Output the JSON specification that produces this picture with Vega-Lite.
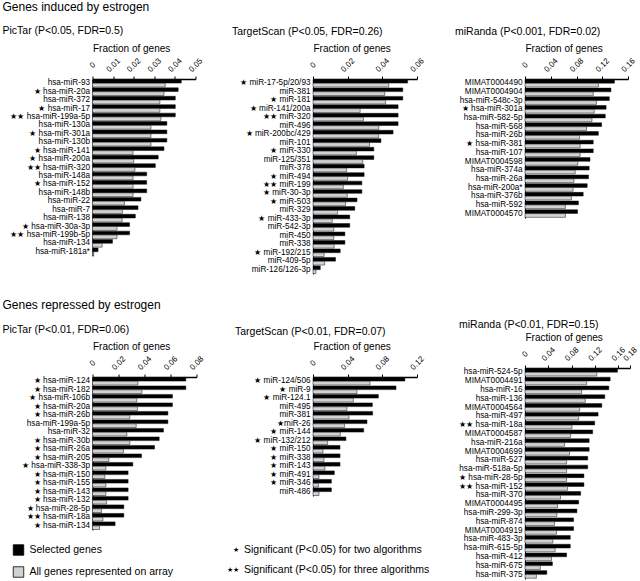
{
  "$schema": "https://vega.github.io/schema/vega-lite/v6.json",
  "padding": {"left": 2.5, "top": 1, "right": 0, "bottom": 0},
  "data": {"values": [
    {"p":"p1","m":"hsa-miR-93","sel":0.0431,"all":0.0353},
    {"p":"p1","m":"★ hsa-miR-20a","sel":0.0416,"all":0.0347},
    {"p":"p1","m":"hsa-miR-372","sel":0.0402,"all":0.0327},
    {"p":"p1","m":"★ hsa-miR-17","sel":0.0402,"all":0.0327},
    {"p":"p1","m":"★★ hsa-miR-199a-5p","sel":0.0402,"all":0.0332},
    {"p":"p1","m":"hsa-miR-130a","sel":0.0361,"all":0.0284},
    {"p":"p1","m":"★ hsa-miR-301a","sel":0.0361,"all":0.0284},
    {"p":"p1","m":"hsa-miR-130b","sel":0.0361,"all":0.0284},
    {"p":"p1","m":"★ hsa-miR-141","sel":0.0347,"all":0.0197},
    {"p":"p1","m":"★ hsa-miR-200a","sel":0.0319,"all":0.0200},
    {"p":"p1","m":"★★ hsa-miR-320","sel":0.0305,"all":0.0206},
    {"p":"p1","m":"hsa-miR-148a","sel":0.0263,"all":0.0197},
    {"p":"p1","m":"★ hsa-miR-152","sel":0.0263,"all":0.0197},
    {"p":"p1","m":"hsa-miR-148b","sel":0.0263,"all":0.0197},
    {"p":"p1","m":"hsa-miR-22","sel":0.0235,"all":0.0155},
    {"p":"p1","m":"hsa-miR-7","sel":0.0221,"all":0.0145},
    {"p":"p1","m":"hsa-miR-138","sel":0.0208,"all":0.0144},
    {"p":"p1","m":"★ hsa-miR-30a-3p","sel":0.0180,"all":0.0119},
    {"p":"p1","m":"★★ hsa-miR-199b-5p","sel":0.0180,"all":0.0119},
    {"p":"p1","m":"hsa-miR-134","sel":0.0097,"all":0.0047},
    {"p":"p1","m":"hsa-miR-181a*","sel":0.0027,"all":0.0006},

    {"p":"p2","m":"★ miR-17-5p/20/93","sel":0.0546,"all":0.0437},
    {"p":"p2","m":"miR-381","sel":0.0518,"all":0.0414},
    {"p":"p2","m":"★ miR-181","sel":0.0518,"all":0.0419},
    {"p":"p2","m":"★ miR-141/200a","sel":0.0491,"all":0.0272},
    {"p":"p2","m":"★★ miR-320","sel":0.0491,"all":0.0291},
    {"p":"p2","m":"miR-496","sel":0.0491,"all":0.0380},
    {"p":"p2","m":"★ miR-200bc/429","sel":0.0462,"all":0.0379},
    {"p":"p2","m":"miR-101","sel":0.0392,"all":0.0326},
    {"p":"p2","m":"★ miR-330","sel":0.0351,"all":0.0250},
    {"p":"p2","m":"miR-125/351","sel":0.0351,"all":0.0287},
    {"p":"p2","m":"miR-378","sel":0.0295,"all":0.0194},
    {"p":"p2","m":"★ miR-494","sel":0.0295,"all":0.0200},
    {"p":"p2","m":"★★ miR-199","sel":0.0282,"all":0.0175},
    {"p":"p2","m":"★ miR-30-3p","sel":0.0282,"all":0.0198},
    {"p":"p2","m":"★ miR-503","sel":0.0254,"all":0.0188},
    {"p":"p2","m":"miR-329","sel":0.0241,"all":0.0142},
    {"p":"p2","m":"★ miR-433-3p","sel":0.0212,"all":0.0111},
    {"p":"p2","m":"miR-542-3p","sel":0.0212,"all":0.0120},
    {"p":"p2","m":"miR-450","sel":0.0184,"all":0.0120},
    {"p":"p2","m":"miR-338","sel":0.0184,"all":0.0122},
    {"p":"p2","m":"★ miR-192/215","sel":0.0157,"all":0.0064},
    {"p":"p2","m":"miR-409-5p","sel":0.0130,"all":0.0067},
    {"p":"p2","m":"miR-126/126-3p","sel":0.0042,"all":0.0017},

    {"p":"p3","m":"MIMAT0004490","sel":0.139,"all":0.114},
    {"p":"p3","m":"MIMAT0004904","sel":0.1335,"all":0.106},
    {"p":"p3","m":"hsa-miR-548c-3p","sel":0.131,"all":0.111},
    {"p":"p3","m":"★ hsa-miR-301a","sel":0.126,"all":0.1075},
    {"p":"p3","m":"hsa-miR-582-5p","sel":0.1247,"all":0.104},
    {"p":"p3","m":"hsa-miR-568","sel":0.119,"all":0.0956},
    {"p":"p3","m":"hsa-miR-26b","sel":0.114,"all":0.0847},
    {"p":"p3","m":"★ hsa-miR-381","sel":0.106,"all":0.0857},
    {"p":"p3","m":"hsa-miR-107","sel":0.106,"all":0.0857},
    {"p":"p3","m":"MIMAT0004598","sel":0.101,"all":0.082},
    {"p":"p3","m":"hsa-miR-374a","sel":0.0997,"all":0.078},
    {"p":"p3","m":"hsa-miR-26a","sel":0.0987,"all":0.076},
    {"p":"p3","m":"hsa-miR-200a*","sel":0.0966,"all":0.0748},
    {"p":"p3","m":"hsa-miR-376b","sel":0.0904,"all":0.0722},
    {"p":"p3","m":"hsa-miR-592","sel":0.083,"all":0.0628},
    {"p":"p3","m":"MIMAT0004570","sel":0.0816,"all":0.0628},

    {"p":"p4","m":"★ hsa-miR-124","sel":0.0718,"all":0.0349},
    {"p":"p4","m":"★ hsa-miR-182","sel":0.0718,"all":0.0380},
    {"p":"p4","m":"★ hsa-miR-106b","sel":0.0615,"all":0.0341},
    {"p":"p4","m":"★ hsa-miR-20a","sel":0.0615,"all":0.0346},
    {"p":"p4","m":"★ hsa-miR-26b","sel":0.0580,"all":0.0287},
    {"p":"p4","m":"hsa-miR-199a-5p","sel":0.0580,"all":0.0336},
    {"p":"p4","m":"hsa-miR-32","sel":0.0546,"all":0.0264},
    {"p":"p4","m":"★ hsa-miR-30b","sel":0.0513,"all":0.0287},
    {"p":"p4","m":"★ hsa-miR-26a","sel":0.0477,"all":0.0238},
    {"p":"p4","m":"★ hsa-miR-205","sel":0.0377,"all":0.0126},
    {"p":"p4","m":"★ hsa-miR-338-3p","sel":0.0310,"all":0.0103},
    {"p":"p4","m":"★ hsa-miR-150","sel":0.0274,"all":0.0095},
    {"p":"p4","m":"★ hsa-miR-155","sel":0.0274,"all":0.0103},
    {"p":"p4","m":"★ hsa-miR-143","sel":0.0274,"all":0.0103},
    {"p":"p4","m":"★ hsa-miR-132","sel":0.0274,"all":0.0108},
    {"p":"p4","m":"★ hsa-miR-28-5p","sel":0.0241,"all":0.0069},
    {"p":"p4","m":"★★ hsa-miR-18a","sel":0.0241,"all":0.0080},
    {"p":"p4","m":"★ hsa-miR-134","sel":0.0174,"all":0.0054},

    {"p":"p5","m":"★ miR-124/506","sel":0.106,"all":0.0658},
    {"p":"p5","m":"★ miR-9","sel":0.0958,"all":0.0508},
    {"p":"p5","m":"★ miR-124.1","sel":0.0754,"all":0.0465},
    {"p":"p5","m":"miR-495","sel":0.0685,"all":0.0392},
    {"p":"p5","m":"miR-381","sel":0.0688,"all":0.0415},
    {"p":"p5","m":"★miR-26","sel":0.0623,"all":0.0365},
    {"p":"p5","m":"★ miR-144","sel":0.0585,"all":0.0315},
    {"p":"p5","m":"★ miR-132/212","sel":0.038,"all":0.0169},
    {"p":"p5","m":"★ miR-150","sel":0.0312,"all":0.0115},
    {"p":"p5","m":"★ miR-338","sel":0.0312,"all":0.0127},
    {"p":"p5","m":"★ miR-143","sel":0.0312,"all":0.0138},
    {"p":"p5","m":"★ miR-491","sel":0.0246,"all":0.0069},
    {"p":"p5","m":"★ miR-346","sel":0.0212,"all":0.0062},
    {"p":"p5","m":"miR-486","sel":0.0212,"all":0.0069},

    {"p":"p6","m":"hsa-miR-524-5p","sel":0.1586,"all":0.123},
    {"p":"p6","m":"MIMAT0004491","sel":0.146,"all":0.1057},
    {"p":"p6","m":"hsa-miR-16","sel":0.1437,"all":0.0971},
    {"p":"p6","m":"hsa-miR-136","sel":0.1368,"all":0.1034},
    {"p":"p6","m":"MIMAT0004564","sel":0.1316,"all":0.0937},
    {"p":"p6","m":"hsa-miR-497","sel":0.1253,"all":0.092},
    {"p":"p6","m":"★★ hsa-miR-18a","sel":0.1195,"all":0.0805},
    {"p":"p6","m":"MIMAT0004587","sel":0.116,"all":0.0782},
    {"p":"p6","m":"hsa-miR-216a","sel":0.110,"all":0.0678},
    {"p":"p6","m":"MIMAT0004699","sel":0.110,"all":0.0764},
    {"p":"p6","m":"hsa-miR-527","sel":0.1075,"all":0.0713},
    {"p":"p6","m":"hsa-miR-518a-5p","sel":0.1075,"all":0.0713},
    {"p":"p6","m":"★ hsa-miR-28-5p","sel":0.101,"all":0.0713},
    {"p":"p6","m":"★★ hsa-miR-152","sel":0.101,"all":0.073},
    {"p":"p6","m":"hsa-miR-370","sel":0.0954,"all":0.0609},
    {"p":"p6","m":"MIMAT0004495","sel":0.092,"all":0.0557},
    {"p":"p6","m":"hsa-miR-299-3p","sel":0.089,"all":0.0546},
    {"p":"p6","m":"hsa-miR-874","sel":0.0833,"all":0.0506},
    {"p":"p6","m":"MIMAT0004919","sel":0.0833,"all":0.054},
    {"p":"p6","m":"hsa-miR-483-3p","sel":0.0776,"all":0.0477},
    {"p":"p6","m":"hsa-miR-615-5p","sel":0.0776,"all":0.0517},
    {"p":"p6","m":"hsa-miR-412","sel":0.0713,"all":0.0454},
    {"p":"p6","m":"hsa-miR-675","sel":0.047,"all":0.0264},
    {"p":"p6","m":"hsa-miR-375","sel":0.0374,"all":0.0195}
  ]},
  "bounds": "flush",
  "spacing": 220.5,
  "resolve": {"scale": {"color": "independent"}, "legend": {"color": "independent"}},
  "hconcat": [
    {
      "vconcat": [
        {
          "title": {"text": "Genes induced by estrogen", "subtitle": "PicTar (P<0.05, FDR=0.5)", "fontSize": 12, "subtitleFontSize": 10.5, "subtitlePadding": 12, "offset": 6, "frame": "group", "dx": -90},
          "width": 103, "height": 177,
          "transform": [{"filter": "datum.p === 'p1'"}, {"fold": ["sel", "all"], "as": ["s", "v"]}],
          "mark": {"type": "bar", "stroke": "#111", "strokeWidth": 0.5},
          "encoding": {
            "y": {"field": "m", "type": "nominal", "sort": null, "scale": {"paddingInner": 0.1, "paddingOuter": 0.05}, "axis": {"title": null}},
            "yOffset": {"field": "s", "sort": ["sel", "all"], "scale": {"paddingInner": 0.05}},
            "x": {"field": "v", "type": "quantitative", "scale": {"domain": [0, 0.05]}, "axis": {"orient": "top", "title": "Fraction of genes", "values": [0, 0.01, 0.02, 0.03, 0.04, 0.05], "format": ".2~f"}},
            "color": {"field": "s", "type": "nominal", "scale": {"domain": ["sel", "all"], "range": ["#000000", "#d2d2d2"]}, "legend": null}
          }
        },
        {
          "vconcat": [
            {
              "title": {"text": "Genes repressed by estrogen", "subtitle": "PicTar (P<0.01, FDR=0.06)", "fontSize": 12, "subtitleFontSize": 10.5, "subtitlePadding": 13, "offset": 5, "frame": "group", "dx": -90},
              "width": 104, "height": 153,
              "transform": [{"filter": "datum.p === 'p4'"}, {"fold": ["sel", "all"], "as": ["s", "v"]}],
              "mark": {"type": "bar", "stroke": "#111", "strokeWidth": 0.5},
              "encoding": {
                "y": {"field": "m", "type": "nominal", "sort": null, "scale": {"paddingInner": 0.1, "paddingOuter": 0.05}, "axis": {"title": null}},
                "yOffset": {"field": "s", "sort": ["sel", "all"], "scale": {"paddingInner": 0.05}},
                "x": {"field": "v", "type": "quantitative", "scale": {"domain": [0, 0.08]}, "axis": {"orient": "top", "title": "Fraction of genes", "values": [0, 0.02, 0.04, 0.06, 0.08], "format": ".2~f"}},
                "color": {"field": "s", "type": "nominal", "scale": {"domain": ["sel", "all"], "range": ["#000000", "#d2d2d2"]},
                  "legend": {"orient": "none", "legendX": -80, "legendY": 167, "title": null, "direction": "vertical", "symbolType": "square", "symbolSize": 110, "symbolStrokeColor": "#000", "symbolStrokeWidth": 0.8, "labelFontSize": 10.5, "labelColor": "#000", "rowPadding": 8, "labelOffset": 5, "padding": 0,
                    "labelExpr": "datum.value === 'sel' ? 'Selected genes' : 'All genes represented on array'"}}
              }
            },
            {
              "width": 298, "height": 40,
              "data": {"values": [
                {"stars": "★", "text": "Significant (P<0.05) for two algorithms"},
                {"stars": "★★", "text": "Significant (P<0.05) for three algorithms"}
              ]},
              "layer": [
                {"mark": {"type": "text", "align": "right", "baseline": "middle", "dx": -2.5, "fontSize": 7, "color": "#000"},
                 "encoding": {"y": {"field": "text", "type": "nominal", "sort": null, "axis": null}, "text": {"field": "stars"}}},
                {"mark": {"type": "text", "align": "left", "baseline": "middle", "dx": 2.5, "fontSize": 10.5, "color": "#000"},
                 "encoding": {"y": {"field": "text", "type": "nominal", "sort": null, "axis": null}, "text": {"field": "text"}}}
              ]
            }
          ],
          "spacing": 10,
          "bounds": "flush",
          "resolve": {"scale": {"color": "independent"}, "legend": {"color": "independent"}}
        }
      ],
      "spacing": 121,
      "bounds": "flush",
      "resolve": {"scale": {"color": "independent"}, "legend": {"color": "independent"}}
    },
    {
      "hconcat": [
        {
          "vconcat": [
            {
              "title": {"text": "TargetScan (P<0.05, FDR=0.26)", "fontSize": 10.5, "offset": 6, "frame": "group", "dx": -81},
              "width": 104, "height": 195,
              "transform": [{"filter": "datum.p === 'p2'"}, {"fold": ["sel", "all"], "as": ["s", "v"]}],
              "mark": {"type": "bar", "stroke": "#111", "strokeWidth": 0.5},
              "encoding": {
                "y": {"field": "m", "type": "nominal", "sort": null, "scale": {"paddingInner": 0.1, "paddingOuter": 0.05}, "axis": {"title": null}},
                "yOffset": {"field": "s", "sort": ["sel", "all"], "scale": {"paddingInner": 0.05}},
                "x": {"field": "v", "type": "quantitative", "scale": {"domain": [0, 0.06]}, "axis": {"orient": "top", "title": "Fraction of genes", "values": [0, 0.02, 0.04, 0.06], "format": ".2~f"}},
                "color": {"field": "s", "type": "nominal", "scale": {"domain": ["sel", "all"], "range": ["#000000", "#d2d2d2"]}, "legend": null}
              }
            },
            {
              "title": {"text": "TargetScan (P<0.01, FDR=0.07)", "fontSize": 10.5, "offset": 4, "frame": "group", "dx": -78},
              "width": 104, "height": 119,
              "transform": [{"filter": "datum.p === 'p5'"}, {"fold": ["sel", "all"], "as": ["s", "v"]}],
              "mark": {"type": "bar", "stroke": "#111", "strokeWidth": 0.5},
              "encoding": {
                "y": {"field": "m", "type": "nominal", "sort": null, "scale": {"paddingInner": 0.1, "paddingOuter": 0.05}, "axis": {"title": null}},
                "yOffset": {"field": "s", "sort": ["sel", "all"], "scale": {"paddingInner": 0.05}},
                "x": {"field": "v", "type": "quantitative", "scale": {"domain": [0, 0.12]}, "axis": {"orient": "top", "title": "Fraction of genes", "values": [0, 0.04, 0.08, 0.12], "format": ".2~f"}},
                "color": {"field": "s", "type": "nominal", "scale": {"domain": ["sel", "all"], "range": ["#000000", "#d2d2d2"]}, "legend": null}
              }
            }
          ],
          "spacing": 103,
          "bounds": "flush",
          "resolve": {"scale": {"color": "independent"}, "legend": {"color": "independent"}}
        },
        {
          "vconcat": [
            {
              "title": {"text": "miRanda (P<0.001, FDR=0.02)", "fontSize": 10.5, "offset": 6, "frame": "group", "dx": -70},
              "width": 103, "height": 139,
              "transform": [{"filter": "datum.p === 'p3'"}, {"fold": ["sel", "all"], "as": ["s", "v"]}],
              "mark": {"type": "bar", "stroke": "#111", "strokeWidth": 0.5},
              "encoding": {
                "y": {"field": "m", "type": "nominal", "sort": null, "scale": {"paddingInner": 0.1, "paddingOuter": 0.05}, "axis": {"title": null}},
                "yOffset": {"field": "s", "sort": ["sel", "all"], "scale": {"paddingInner": 0.05}},
                "x": {"field": "v", "type": "quantitative", "scale": {"domain": [0, 0.16]}, "axis": {"orient": "top", "title": "Fraction of genes", "values": [0, 0.04, 0.08, 0.12, 0.16], "format": ".2~f"}},
                "color": {"field": "s", "type": "nominal", "scale": {"domain": ["sel", "all"], "range": ["#000000", "#d2d2d2"]}, "legend": null}
              }
            },
            {
              "title": {"text": "miRanda (P<0.01, FDR=0.15)", "fontSize": 10.5, "offset": 2, "frame": "group", "dx": -66},
              "width": 105, "height": 211,
              "transform": [{"filter": "datum.p === 'p6'"}, {"fold": ["sel", "all"], "as": ["s", "v"]}],
              "mark": {"type": "bar", "stroke": "#111", "strokeWidth": 0.5},
              "encoding": {
                "y": {"field": "m", "type": "nominal", "sort": null, "scale": {"paddingInner": 0.1, "paddingOuter": 0.05}, "axis": {"title": null}},
                "yOffset": {"field": "s", "sort": ["sel", "all"], "scale": {"paddingInner": 0.05}},
                "x": {"field": "v", "type": "quantitative", "scale": {"domain": [0, 0.18]}, "axis": {"orient": "top", "title": "Fraction of genes", "values": [0, 0.04, 0.08, 0.12, 0.16, 0.18], "format": ".2~f"}},
                "color": {"field": "s", "type": "nominal", "scale": {"domain": ["sel", "all"], "range": ["#000000", "#d2d2d2"]}, "legend": null}
              }
            }
          ],
          "spacing": 150,
          "bounds": "flush",
          "resolve": {"scale": {"color": "independent"}, "legend": {"color": "independent"}}
        }
      ],
      "spacing": 212,
      "bounds": "flush",
      "resolve": {"scale": {"color": "independent"}, "legend": {"color": "independent"}}
    }
  ],
  "config": {
    "font": "Liberation Sans",
    "view": {"stroke": null},
    "axis": {"domainColor": "#000", "tickColor": "#000", "labelColor": "#000", "titleColor": "#000", "grid": false},
    "axisX": {"labelAngle": -45, "labelAlign": "center", "labelBaseline": "middle", "labelPadding": 11, "labelFontSize": 8, "labelFlush": false, "labelOverlap": false, "tickSize": 3, "domainWidth": 1.5, "titleFontSize": 10, "titleFontWeight": "normal", "titlePadding": 3, "titleAnchor": "start"},
    "axisY": {"ticks": false, "labelFontSize": 8.2, "labelPadding": 3, "domainWidth": 1, "labelLimit": 200},
    "title": {"fontSize": 10.5, "fontWeight": "normal", "anchor": "start", "offset": 8, "color": "#000", "subtitleColor": "#000", "subtitleFontSize": 10.5, "subtitleFont": "Liberation Sans", "font": "Liberation Sans"}
  }
}
